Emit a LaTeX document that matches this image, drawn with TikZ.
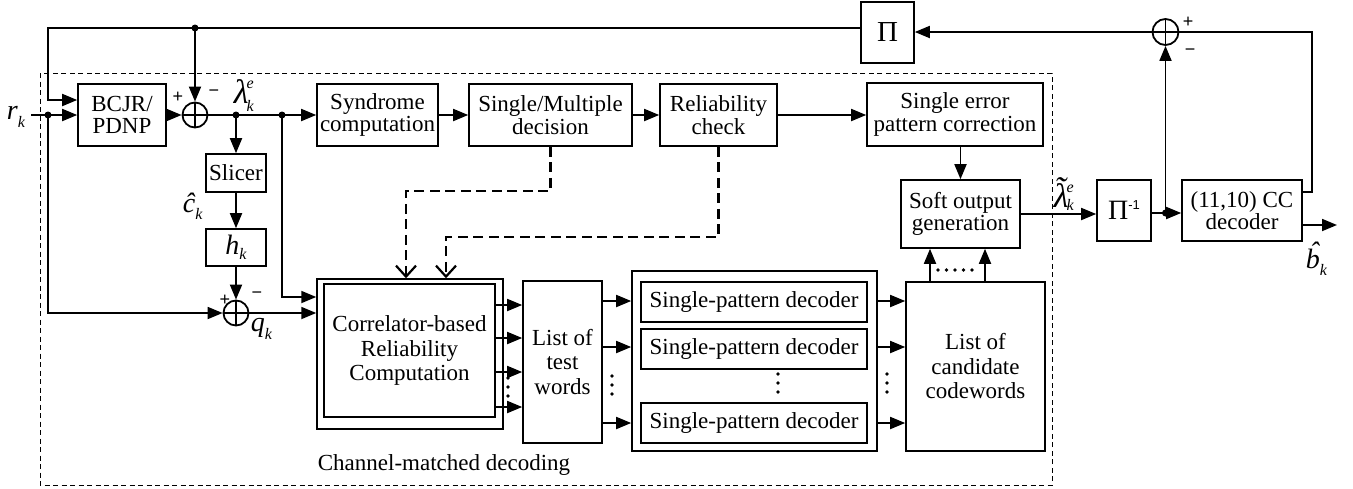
\documentclass[tikz,border=0pt]{standalone}
\usepackage{fontspec}
\setmainfont{Liberation Serif}
\newfontfamily\signfont{Liberation Sans}
\usetikzlibrary{arrows.meta}

\newcommand\boxfont{\fontsize{23}{22.5}\selectfont}
\newcommand\tallfont{\fontsize{23}{24.5}\selectfont}
\newcommand\symfont{\fontsize{28}{28}\selectfont\itshape}
\newcommand\lamfont{\fontsize{34}{34}\selectfont\itshape}
\newcommand\idxfont{\fontsize{16}{16}\selectfont\itshape}
\newcommand\idx[2]{\raisebox{#1}{\idxfont #2}}
\newcommand\vdotsat[2]{\foreach \dd in {0,9,18} \fill ({#1},{#2+\dd}) circle (1.8pt);}

\tikzset{
  blk/.style 2 args={draw, line width=1.6pt, minimum width=#1, minimum height=#2,
    inner sep=1pt, align=center, font=\boxfont},
  sumnode/.style={circle, draw, line width=1.8pt, minimum size=25pt, inner sep=0pt,
    path picture={\draw[line width=1.8pt]
      (path picture bounding box.north) -- (path picture bounding box.south)
      (path picture bounding box.west) -- (path picture bounding box.east);}},
  sign/.style={font=\signfont\fontsize{18}{18}\selectfont, inner sep=0pt},
  lbl/.style={inner sep=0pt, anchor=base west},
  ctrl/.style={line width=2.2pt, dash pattern=on 10pt off 5.5pt,
    -{Straight Barb[length=11pt,width=20pt]}},
  frame/.style={line width=1pt, dash pattern=on 5pt off 3.5pt},
}

\begin{document}
\begin{tikzpicture}[x=1pt, y=-1pt, line width=1.8pt,
  >={Triangle[length=15pt,width=12pt]}]
\useasboundingbox (0,0) rectangle (1353,488);

% channel-matched decoding frame
\draw[frame] (40,73) rectangle (1052,485);
\node[anchor=west, font=\boxfont, inner sep=0pt] (cmd) at (317,465) {Channel-matched decoding};

% blocks
\node[blk={88pt}{62pt}] (bcjr) at (122,115) {BCJR/\\PDNP};
\node[sumnode] (s1) at (195,115) {};
\node[blk={121pt}{62pt}] (synd) at (377.5,115) {Syndrome\\computation};
\node[blk={163pt}{62pt}] (smd) at (550.5,115) {Single/Multiple\\decision};
\node[blk={117pt}{62pt}] (rel) at (718.5,115) {Reliability\\check};
\node[blk={176pt}{63pt}] (sepc) at (955,114.5) {Single error\\pattern correction};
\node[blk={119pt}{68pt}] (soft) at (960.5,214) {Soft output\\generation};
\node[blk={60pt}{38pt}] (slicer) at (236,173) {Slicer};
\node[blk={60pt}{37pt}] (hk) at (236,247.5) {\symfont h\idx{-5pt}{k}};
\node[sumnode] (s2) at (236,313) {};

\node[draw, line width=1.5pt, minimum width=186pt, minimum height=150pt] (crcO) at (410,354) {};
\node[blk={171pt}{133pt}, line width=1.5pt, font=\tallfont] (crc) at (409.5,350.5)
  {Correlator-based\\Reliability\\Computation};
\node[blk={79pt}{162pt}, font=\tallfont] (ltw) at (562.5,362) {List of\\test\\words};

\node[draw, line width=1.6pt, minimum width=245pt, minimum height=180pt] (grp) at (754.5,361) {};
\node[blk={226pt}{40pt}] (spd1) at (754,302) {Single-pattern decoder};
\node[blk={226pt}{40pt}] (spd2) at (754,349) {Single-pattern decoder};
\node[blk={226pt}{40pt}] (spd3) at (754,423) {Single-pattern decoder};
\node[blk={139pt}{169pt}, font=\tallfont] (lcc) at (975.5,366.5) {List of\\candidate\\codewords};

\node[blk={54pt}{61pt}] (pinv) at (1124,210.5)
  {\fontsize{28}{28}\selectfont Π\raisebox{10pt}{\signfont\fontsize{13}{13}\selectfont -1}};
\node[blk={120pt}{61pt}] (cc) at (1242,210.5) {(11,10) CC\\decoder};
\node[blk={53pt}{61pt}, font=\fontsize{29}{29}\selectfont] (pi) at (887.5,32.5) {Π};
\node[sumnode, minimum size=26pt] (s3) at (1165.5,32) {};

% signs at the adders
\node[sign] (p1) at (178,97) {+};
\node[sign] (m1) at (214,93) {−};
\node[sign] (p2) at (225,300) {+};
\node[sign] (m2) at (257,295) {−};
\node[sign] (p3) at (1188,22) {+};
\node[sign] (m3) at (1190,52) {−};

% signal labels
\node[lbl] (rk) at (6,119) {\symfont r\idx{-8pt}{k}};
\node[lbl] (lam) at (233,103)
  {\lamfont λ\kern-2pt\rlap{\idx{-8pt}{k}}\idx{15pt}{e}};
\node[lbl] (chat) at (182,212) {\symfont ĉ\idx{-7pt}{k}};
\node[lbl] (qk) at (250,331) {\symfont q\idx{-8pt}{k}};
\node[lbl] (lamt) at (1053,207)
  {\lamfont λ\llap{\raisebox{7pt}{˜}\kern3pt}\kern-2pt\rlap{\idx{-3pt}{k}}\idx{15pt}{e}};
\node[lbl] (bhat) at (1305,268) {\symfont b\llap{\raisebox{7pt}{ˆ}\kern1pt}\idx{-7pt}{k}};

% junction points
\coordinate (rin) at (31,115);
\coordinate (d1) at (48,115);
\coordinate (j0) at (195,28);
\coordinate (fbIn) at (48,100);
\coordinate (j1) at (236,115);
\coordinate (j2) at (282,115);
\coordinate (c2) at (282,297);
\coordinate (j3) at (1165.5,213);
\coordinate (cr) at (1312,192);
\coordinate (bout) at (1337,225);
\coordinate (dA) at (406,191);
\coordinate (dB) at (446,237);

% input and front end
\draw[->] (rin) -- (bcjr);
\draw[->] (d1) |- (s2);
\draw[->] (pi.west |- j0) -| (fbIn) -- (bcjr.west |- fbIn);
\draw[->] (j0) -- (s1);
\draw[->] (bcjr) -- (s1);
\draw[->] (s1) -- (synd);
\draw[->] (j1) -- (slicer);
\draw[->] (slicer) -- (hk);
\draw[->] (hk) -- (s2);
\draw[->] (s2) -- (crcO.west |- s2);
\draw[->] (j2) -- (c2) -- (crcO.west |- c2);
\foreach \p in {d1,j0,j1,j2} \fill (\p) circle (3.5pt);

% syndrome chain
\draw[->] (synd) -- (smd);
\draw[->] (smd) -- (rel);
\draw[->] (rel) -- (sepc.west |- rel);
\draw[->] (sepc.south -| soft.north) -- (soft.north);

% control paths
\draw[ctrl] (smd.south) |- (dA) -- (dA |- crcO.north);
\draw[ctrl] (rel.south) |- (dB) -- (dB |- crcO.north);

% list decoding paths
\foreach \yy in {305,338,372,407} {
  \coordinate (t) at (0,\yy);
  \draw[->] (crc.east |- t) -- (ltw.west |- t);
}
\foreach \yy in {301,347,423} {
  \coordinate (t) at (0,\yy);
  \draw[->] (ltw.east |- t) -- (grp.west |- t);
  \draw[->] (grp.east |- t) -- (lcc.west |- t);
}
\vdotsat{508}{378}
\vdotsat{612}{376}
\vdotsat{778}{374}
\vdotsat{887}{374}

\coordinate (u1) at (930,0);
\coordinate (u2) at (985,0);
\draw[->] (lcc.north -| u1) -- (soft.south -| u1);
\draw[->] (lcc.north -| u2) -- (soft.south -| u2);
\foreach \dd in {0,...,4} \fill ({938+8.5*\dd},270) circle (1.8pt);

% outer decoder and feedback
\draw[->] (soft.east) -- (pinv.west |- soft.east);
\draw (pinv.east |- j3) -- (j3);
\draw[->] (j3) -- (cc.west |- j3);
\draw[->] (j3) -- (s3);
\fill (j3) circle (3.5pt);
\draw (cc.east |- cr) -- (cr) |- (s3);
\draw[->] (s3) -- (pi.east |- s3);
\draw[->] (cc.east |- bout) -- (bout);
\end{tikzpicture}
\end{document}
